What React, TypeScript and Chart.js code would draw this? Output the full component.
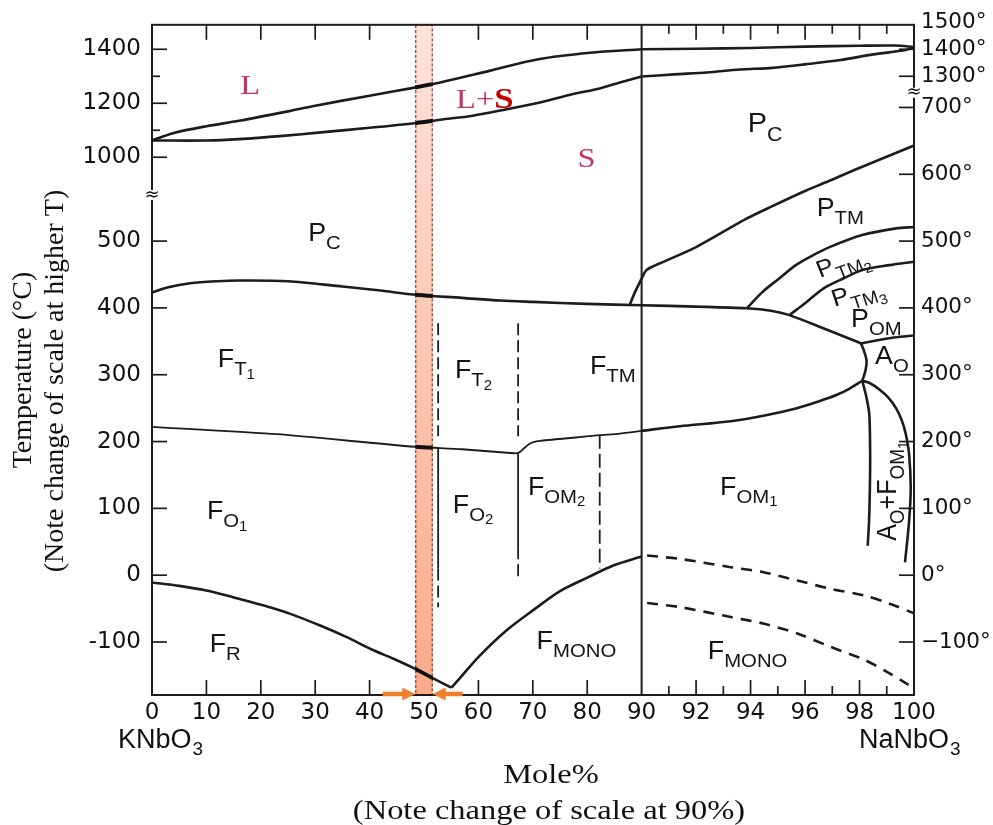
import { useEffect, useRef } from 'react';
import { Chart, registerables } from 'chart.js';

Chart.register(...registerables);

// ---------- broken-axis mapping ----------
// x: 0–90 mol% on the main scale, 90–100 mol% stretched
const X_BREAK = 90;
const X_RIGHT_FACTOR = 5.007;
// T: lower scale in °C, upper scale (>= 1000 °C region) compressed
const T_UPPER_BASE = 1000;
const V_UPPER_BASE = 625.5;
const T_UPPER_FACTOR = 0.4039;
const T_MIN = -179.3;
const T_MAX = 1490.7;

const u = (x: number) => (x <= X_BREAK ? x : X_BREAK + (x - X_BREAK) * X_RIGHT_FACTOR);
const v = (t: number) => (t >= 900 ? V_UPPER_BASE + (t - T_UPPER_BASE) * T_UPPER_FACTOR : t);

// ---------- ticks ----------
const xTickValues = [0, 10, 20, 30, 40, 50, 60, 70, 80, 90, 92, 94, 96, 98, 100];
const innerMajorXTicks = [10, 20, 30, 40, 50, 60, 70, 80, 92, 94, 96, 98];
const innerMinorXTicks = [91, 93, 95, 97, 99];
const leftTickTemps = [-100, 0, 100, 200, 300, 400, 500, 1000, 1200, 1400];
const leftTickLabels = ['-100', '0', '100', '200', '300', '400', '500', '1000', '1200', '1400'];
const leftMinorTemps = [1100, 1300];
const rightTickTemps = [-100, 0, 100, 200, 300, 400, 500, 600, 700, 1300, 1400, 1500];
const rightTickLabels = ['−100°', '0°', '100°', '200°', '300°', '400°', '500°', '600°', '700°', '1300°', '1400°', '1500°'];
const leftBreakV = 569;
const rightBreakV = 722;

// ---------- phase boundaries (mol% NaNbO3, °C) ----------
const liquidusLeftX = [0, 4, 10, 16, 25, 30, 40, 48, 53, 62, 71, 80.5, 90];
const liquidusLeftT = [1062, 1090, 1115, 1135, 1170, 1191, 1228, 1257, 1277, 1320, 1363, 1387, 1400];
const liquidusRightX = [90, 92, 94, 96, 98, 99.3, 100];
const liquidusRightT = [1400, 1402, 1405, 1410, 1413, 1414, 1408];

const solidusLeftX = [0, 10, 16, 24, 31, 40, 48.6, 53, 59, 65.2, 71.3, 77.4, 82.3, 86, 90];
const solidusLeftT = [1062, 1062, 1067, 1079, 1092, 1109, 1127, 1139, 1154, 1178, 1203, 1234, 1255, 1277, 1299];
const solidusRightX = [90, 91.2, 92.4, 93.6, 94.8, 96, 97.3, 98.5, 99.7, 100];
const solidusRightT = [1299, 1307, 1314, 1325, 1331, 1344, 1360, 1381, 1397, 1408];

const cubicLeftX = [0, 3, 7, 12, 16, 25, 35, 42, 48, 57, 64, 70, 80, 90];
const cubicLeftT = [423, 431, 437, 440, 441, 440, 432, 426, 420, 415, 411, 409, 406, 404];
const cubicRightX = [90, 92, 93.85, 94.8, 95.4, 96.67, 98.05];
const cubicRightT = [404, 402, 399.4, 395.5, 389.6, 369.6, 347];

const ptmLeftX = [87.8, 88.8, 89.7, 90];
const ptmLeftT = [404.5, 424, 439, 444];
const ptmRightX = [90, 90.18, 90.8, 92, 93.85, 94.84, 96.06, 96.77, 97.9, 100];
const ptmRightT = [444, 456.6, 469, 491, 533.5, 553, 576, 588, 608, 643];

const ptm2X = [93.85, 94.44, 95.05, 95.66, 96.3, 96.9, 98.1, 99.34, 100];
const ptm2T = [399, 424, 444, 464, 479, 491, 509, 519, 521];
const ptm3X = [95.45, 96.06, 96.67, 97.4, 98.13, 99.1, 100];
const ptm3T = [390, 409, 429, 444, 457, 464, 469];
const pomX = [98.05, 99.1, 100];
const pomT = [347, 354.7, 358.7];
const aoLoopX = [98.05, 98.17, 98.26, 98.21, 98.1];
const aoLoopT = [347, 335, 320, 305, 291];

const ftLowerLeftX = [0, 23, 47, 57, 66.5, 67.3, 67.8, 68.2, 69.1, 70.1, 71.3, 77.4, 82.3, 86, 90];
const ftLowerLeftT = [222, 211, 193, 188.5, 182.5, 183, 185.5, 188.5, 195, 199, 201, 205.7, 209.5, 212, 216];
const ftLowerRightX = [90, 91.4, 93.27, 94.56, 95.7, 96.52, 97.17, 97.62, 98.1];
const ftLowerRightT = [216, 223, 230.5, 239.5, 250, 260.4, 270, 279, 291];

const frX = [0, 5, 10, 14.9, 20.4, 25.3, 30.8, 35.7, 40.6, 44.3, 48.6, 51.7, 55.05];
const frT = [-11, -16, -23, -33, -45, -57.5, -75, -92.4, -112, -124.6, -141, -154.4, -168.4];
const monoX = [55.05, 56.6, 60.3, 65.2, 70.2, 75, 80.2, 84.8, 90];
const monoT = [-168.4, -154, -120, -82.4, -51.6, -23.8, -3, 14.5, 28];

const dashUpperX = [90.2, 91.4, 93.27, 94.47, 95.72, 96.92, 98.2, 99.1, 100];
const dashUpperT = [29.4, 24.4, 12, 4.5, -8, -20.3, -30.5, -42.6, -57];
const dashLowerX = [90.2, 91.4, 93.27, 94.47, 95.72, 96.92, 98.2, 99.1, 99.8];
const dashLowerT = [-41.7, -47.7, -62.6, -72.4, -87.3, -107, -127, -147, -164];

const aoFomLeftX = [98.1, 98.26, 98.36, 98.39, 98.38, 98.35, 98.3];
const aoFomLeftT = [291, 265, 240, 180, 131, 81, 44];
const aoFomRightX = [98.1, 98.37, 98.73, 99.05, 99.34, 99.55, 99.7, 99.82, 99.88, 99.82, 99.67];
const aoFomRightT = [291, 287.6, 277.8, 266, 250, 232, 211, 181, 131, 81, 19];

const line90X = [90, 90];
const line90T = [T_MIN, T_MAX];

const b52X = [52.6, 52.6];
const b52DashUpperT = [377, 208];
const b52SolidT = [190, 10];
const b52DashLowerT = [10, -48];
const b67X = [67.3, 67.3];
const b67DashUpperT = [377, 208];
const b67SolidT = [183, 42];
const b67DashLowerT = [42, -8];
const b82X = [82.3, 82.3];
const b82DashT = [210, 10];

// ---------- highlighted composition band and arrows ----------
const bandX = [48.4, 51.6];
const arrowTailX = [42.4, 57.1];

// ---------- labels ----------
type Part = [string, number, string?, boolean?];
const SANS = '"Liberation Sans", Arial, sans-serif';
const SERIF = '"Liberation Serif", "Times New Roman", serif';
const regionLabels: { x: number; t: number; parts: Part[]; angle?: number; align?: string; size?: number }[] = [
  { x: 12.1, t: 325, parts: [['F', 0], ['T', 1], ['1', 2]] },
  { x: 28.7, t: 514, parts: [['P', 0], ['C', 1]] },
  { x: 55.7, t: 308, parts: [['F', 0], ['T', 1], ['2', 2]] },
  { x: 80.5, t: 315, parts: [['F', 0], ['TM', 1]] },
  { x: 10.1, t: 97, parts: [['F', 0], ['O', 1], ['1', 2]] },
  { x: 55.3, t: 107, parts: [['F', 0], ['O', 1], ['2', 2]] },
  { x: 69.1, t: 134, parts: [['F', 0], ['OM', 1], ['2', 2]] },
  { x: 10.6, t: -102, parts: [['F', 0], ['R', 1]] },
  { x: 70.7, t: -97, parts: [['F', 0], ['MONO', 1]] },
  { x: 92.43, t: -112, parts: [['F', 0], ['MONO', 1]] },
  { x: 92.88, t: 134, parts: [['F', 0], ['OM', 1], ['1', 2]] },
  { x: 93.9, t: 678, parts: [['P', 0], ['C', 1]], size: 27 },
  { x: 96.43, t: 551, parts: [['P', 0], ['TM', 1]] },
  { x: 96.43, t: 457, parts: [['P', 0], ['TM', 1], ['2', 2]], angle: -0.36, size: 24 },
  { x: 96.98, t: 414, parts: [['P', 0], ['TM', 1], ['3', 2]], angle: -0.3, size: 24 },
  { x: 97.69, t: 384.5, parts: [['P', 0], ['OM', 1]] },
  { x: 98.57, t: 330, parts: [['A', 0], ['O', 1]] },
  { x: 98.97, t: 126, parts: [['A', 0], ['O', 1], ['+F', 0], ['OM', 1], ['1', 2]], angle: -Math.PI / 2, align: 'center' },
];
const PINK = '#c93260';
const serifLabels: { x: number; t: number; parts: Part[] }[] = [
  { x: 16.2, t: 1270, parts: [['L', 0, PINK]] },
  { x: 55.9, t: 1221, parts: [['L+', 0, PINK], ['S', 0, '#c40000', true]] },
  { x: 78.2, t: 1000, parts: [['S', 0, PINK]] },
];

const STRETCH = 1.16;
const LABEL_STRETCH = 1.07;

function drawRich(
  ctx: CanvasRenderingContext2D, px: number, py: number, parts: Part[], size: number, family: string,
  angle = 0, align = 'left', stretch = STRETCH,
) {
  const sizes = [size, Math.round(size * 0.74), Math.round(size * 0.58)];
  const drops = [0, size * 0.32, size * 0.46];
  ctx.save();
  ctx.translate(px, py);
  ctx.scale(stretch, 1);
  if (angle) ctx.rotate(angle);
  const fontOf = (p: Part) => `${p[3] ? 'bold ' : ''}${p[3] ? Math.round(sizes[p[1]] * 1.08) : sizes[p[1]]}px ${family}`;
  let total = 0;
  for (const p of parts) { ctx.font = fontOf(p); total += ctx.measureText(p[0]).width; }
  let cx = align === 'center' ? -total / 2 : 0;
  ctx.textBaseline = 'alphabetic';
  ctx.textAlign = 'left';
  const base = size * 0.36;
  for (const p of parts) {
    ctx.font = fontOf(p);
    ctx.fillStyle = p[2] || '#151515';
    ctx.fillText(p[0], cx, base + drops[p[1]]);
    cx += ctx.measureText(p[0]).width;
  }
  ctx.restore();
}

const INK = '#1c1c1c';
function curve(xs: number[], ts: number[], extra: any = {}) {
  return {
    data: xs.map((x, i) => ({ x: u(x), y: v(ts[i]) })),
    showLine: true,
    pointRadius: 0,
    borderColor: INK,
    borderWidth: 2.6,
    tension: 0.3,
    fill: false,
    ...extra,
  };
}

const datasets = [
  curve(liquidusLeftX, liquidusLeftT, { thick: true }),
  curve(liquidusRightX, liquidusRightT),
  curve(solidusLeftX, solidusLeftT, { thick: true }),
  curve(solidusRightX, solidusRightT),
  curve(cubicLeftX, cubicLeftT, { thick: true }),
  curve(cubicRightX, cubicRightT),
  curve(ptmLeftX, ptmLeftT, { tension: 0.2 }),
  curve(ptmRightX, ptmRightT),
  curve(ptm2X, ptm2T),
  curve(ptm3X, ptm3T),
  curve(pomX, pomT),
  curve(aoLoopX, aoLoopT, { tension: 0.4 }),
  curve(ftLowerLeftX, ftLowerLeftT, { borderWidth: 1.8, thick: true, tension: 0.2 }),
  curve(ftLowerRightX, ftLowerRightT),
  curve(frX, frT, { thick: true }),
  curve(monoX, monoT),
  curve(dashUpperX, dashUpperT, { borderWidth: 2.6, borderDash: [11, 8] }),
  curve(dashLowerX, dashLowerT, { borderWidth: 2.6, borderDash: [11, 8] }),
  curve(aoFomLeftX, aoFomLeftT),
  curve(aoFomRightX, aoFomRightT),
  curve(line90X, line90T, { borderWidth: 2, tension: 0 }),
  curve(b52X, b52DashUpperT, { borderWidth: 1.8, borderDash: [12, 5], tension: 0 }),
  curve(b52X, b52SolidT, { borderWidth: 1.8, tension: 0 }),
  curve(b52X, b52DashLowerT, { borderWidth: 1.8, borderDash: [12, 5], tension: 0 }),
  curve(b67X, b67DashUpperT, { borderWidth: 1.8, borderDash: [12, 5], tension: 0 }),
  curve(b67X, b67SolidT, { borderWidth: 1.8, tension: 0 }),
  curve(b67X, b67DashLowerT, { borderWidth: 1.8, borderDash: [12, 5], tension: 0 }),
  curve(b82X, b82DashT, { borderWidth: 1.8, borderDash: [14, 5], tension: 0 }),
];

const phasePlugin = {
  id: 'phase',
  beforeDatasetsDraw(chart: any) {
    const { ctx, chartArea: a, scales } = chart;
    const xs = scales.x, ys = scales.y;
    ctx.save();
    ctx.strokeStyle = INK;
    ctx.lineWidth = 1.7;
    const seg = (x1: number, y1: number, x2: number, y2: number) => {
      ctx.beginPath(); ctx.moveTo(x1, y1); ctx.lineTo(x2, y2); ctx.stroke();
    };
    for (const m of innerMajorXTicks) {
      const px = xs.getPixelForValue(u(m));
      seg(px, a.bottom, px, a.bottom - 15); seg(px, a.top, px, a.top + 15);
    }
    for (const m of innerMinorXTicks) {
      const px = xs.getPixelForValue(u(m));
      seg(px, a.bottom, px, a.bottom - 9); seg(px, a.top, px, a.top + 9);
    }
    for (const t of leftTickTemps) {
      const py = ys.getPixelForValue(v(t)); seg(a.left, py, a.left + 15, py);
    }
    for (const t of leftMinorTemps) {
      const py = ys.getPixelForValue(v(t)); seg(a.left, py, a.left + 8, py);
    }
    for (const t of rightTickTemps) {
      const py = ys.getPixelForValue(v(t));
      if (py > a.top + 2) seg(a.right, py, a.right - 15, py);
    }
    // band
    const bx1 = xs.getPixelForValue(u(bandX[0]));
    const bx2 = xs.getPixelForValue(u(bandX[1]));
    const g = ctx.createLinearGradient(0, a.top, 0, a.bottom);
    g.addColorStop(0, '#fde3da');
    g.addColorStop(1, '#f9ab88');
    ctx.fillStyle = g;
    ctx.fillRect(bx1, a.top, bx2 - bx1, a.bottom - a.top);
    ctx.setLineDash([3, 2]);
    ctx.strokeStyle = '#8e1010';
    ctx.lineWidth = 1;
    ctx.strokeRect(bx1 + 0.5, a.top, bx2 - bx1 - 1, a.bottom - a.top);
    ctx.restore();
  },
  afterDatasetsDraw(chart: any) {
    const { ctx, chartArea: a, scales } = chart;
    const xs = scales.x, ys = scales.y;
    const bx1 = xs.getPixelForValue(u(bandX[0]));
    const bx2 = xs.getPixelForValue(u(bandX[1]));
    // bolder line segments inside the band
    chart.data.datasets.forEach((ds: any, i: number) => {
      if (!ds.thick) return;
      const meta = chart.getDatasetMeta(i);
      ctx.save();
      ctx.beginPath(); ctx.rect(bx1, a.top, bx2 - bx1, a.bottom - a.top); ctx.clip();
      ctx.beginPath();
      meta.dataset.path(ctx);
      ctx.lineWidth = 3.9; ctx.strokeStyle = '#111'; ctx.lineJoin = 'round';
      ctx.stroke();
      ctx.restore();
    });
    ctx.save();
    // frame
    ctx.strokeStyle = INK;
    ctx.lineWidth = 2;
    ctx.strokeRect(a.left, a.top, a.right - a.left, a.bottom - a.top);
    // axis breaks
    const brk = (px: number, py: number) => {
      ctx.fillStyle = '#fff';
      ctx.fillRect(px - 3, py - 5, 6, 10);
      ctx.fillStyle = '#111';
      ctx.font = '18px "DejaVu Sans", sans-serif';
      ctx.textAlign = 'center'; ctx.textBaseline = 'middle';
      ctx.fillText('≈', px, py);
    };
    brk(a.left, ys.getPixelForValue(leftBreakV));
    brk(a.right, ys.getPixelForValue(rightBreakV));
    // arrows
    ctx.fillStyle = '#ef7f2c'; ctx.strokeStyle = '#ef7f2c';
    const ay = a.bottom - 1;
    const arrow = (tail: number, tip: number) => {
      const dir = Math.sign(tip - tail);
      ctx.lineWidth = 4.5;
      ctx.beginPath(); ctx.moveTo(tail, ay); ctx.lineTo(tip - dir * 10, ay); ctx.stroke();
      ctx.beginPath(); ctx.moveTo(tip, ay); ctx.lineTo(tip - dir * 13, ay - 6.5); ctx.lineTo(tip - dir * 13, ay + 6.5); ctx.closePath(); ctx.fill();
    };
    arrow(xs.getPixelForValue(u(arrowTailX[0])), bx1);
    arrow(xs.getPixelForValue(u(arrowTailX[1])), bx2);
    // region labels
    for (const l of regionLabels) {
      drawRich(ctx, xs.getPixelForValue(u(l.x)), ys.getPixelForValue(v(l.t)), l.parts, l.size || 25, SANS,
        l.angle || 0, l.align || 'left', LABEL_STRETCH);
    }
    for (const l of serifLabels) {
      drawRich(ctx, xs.getPixelForValue(u(l.x)), ys.getPixelForValue(v(l.t)), l.parts, 28, SERIF);
    }
    // end-member names
    const x0 = xs.getPixelForValue(u(0));
    const x100 = xs.getPixelForValue(u(100));
    const endName = (px: number, main: string) => {
      ctx.font = `27px ${SANS}`;
      ctx.fillStyle = '#111'; ctx.textAlign = 'left'; ctx.textBaseline = 'alphabetic';
      ctx.fillText(main, px, a.bottom + 53);
      const w = ctx.measureText(main).width;
      ctx.font = `19px ${SANS}`;
      ctx.fillText('3', px + w + 1, a.bottom + 60);
    };
    endName(x0 - 34, 'KNbO');
    endName(x100 - 55, 'NaNbO');
    // axis titles
    ctx.fillStyle = '#111';
    ctx.font = `28px ${SERIF}`;
    ctx.textAlign = 'center';
    ctx.textBaseline = 'alphabetic';
    ctx.save(); ctx.translate(551, a.bottom + 88); ctx.scale(STRETCH, 1); ctx.fillText('Mole%', 0, 0); ctx.restore();
    ctx.save(); ctx.translate(549, a.bottom + 124); ctx.scale(STRETCH, 1); ctx.fillText('(Note change of scale at 90%)', 0, 0); ctx.restore();
    ctx.textBaseline = 'middle';
    ctx.save(); ctx.translate(24, 370); ctx.rotate(-Math.PI / 2); ctx.fillText('Temperature (°C)', 0, 0); ctx.restore();
    ctx.save(); ctx.translate(56, 381); ctx.rotate(-Math.PI / 2); ctx.fillText('(Note change of scale at higher T)', 0, 0); ctx.restore();
    ctx.restore();
  },
};

export default function App() {
  const ref = useRef<HTMLCanvasElement>(null);
  useEffect(() => {
    const canvas = ref.current!;
    const tickFont = { family: '"DejaVu Sans", sans-serif', size: 23 };
    const rightFont = { family: '"DejaVu Sans", sans-serif', size: 21.5 };
    const chart = new Chart(canvas, {
      type: 'scatter',
      data: { datasets: datasets as any },
      options: {
        responsive: false,
        animation: false,
        devicePixelRatio: 1,
        layout: { padding: { top: 22, left: 0, right: 0, bottom: 0 } },
        plugins: { legend: { display: false }, tooltip: { enabled: false } },
        scales: {
          x: {
            type: 'linear', position: 'bottom', min: 0, max: u(100),
            grid: { display: false, drawTicks: false }, border: { display: false },
            afterBuildTicks: (s: any) => { s.ticks = xTickValues.map((val) => ({ value: u(val) })); },
            afterFit: (s: any) => { s.height = 130; },
            ticks: { autoSkip: false, maxRotation: 0, padding: 4, font: tickFont, color: '#111', callback: (_v: any, i: number) => String(xTickValues[i]) },
          },
          y: {
            type: 'linear', position: 'left', min: v(T_MIN), max: v(T_MAX),
            grid: { display: false, drawTicks: false }, border: { display: false },
            afterBuildTicks: (s: any) => { s.ticks = leftTickTemps.map((t) => ({ value: v(t) })); },
            afterFit: (s: any) => { s.width = 152; },
            ticks: { autoSkip: false, padding: 11, font: tickFont, color: '#111', callback: (_v: any, i: number) => leftTickLabels[i] },
          },
          y2: {
            type: 'linear', position: 'right', min: v(T_MIN), max: v(T_MAX),
            grid: { display: false, drawTicks: false }, border: { display: false },
            afterBuildTicks: (s: any) => { s.ticks = rightTickTemps.map((t) => ({ value: v(t) })); },
            afterFit: (s: any) => { s.width = 79; },
            ticks: { autoSkip: false, padding: 7, font: rightFont, color: '#111', callback: (_v: any, i: number) => rightTickLabels[i] },
          },
        },
      } as any,
      plugins: [phasePlugin],
    });
    return () => chart.destroy();
  }, []);
  return (
    <div style={{ position: 'absolute', left: 0, top: 0, width: 993, height: 825, background: '#fff' }}>
      <canvas ref={ref} width={993} height={825} style={{ display: 'block' }} />
    </div>
  );
}
